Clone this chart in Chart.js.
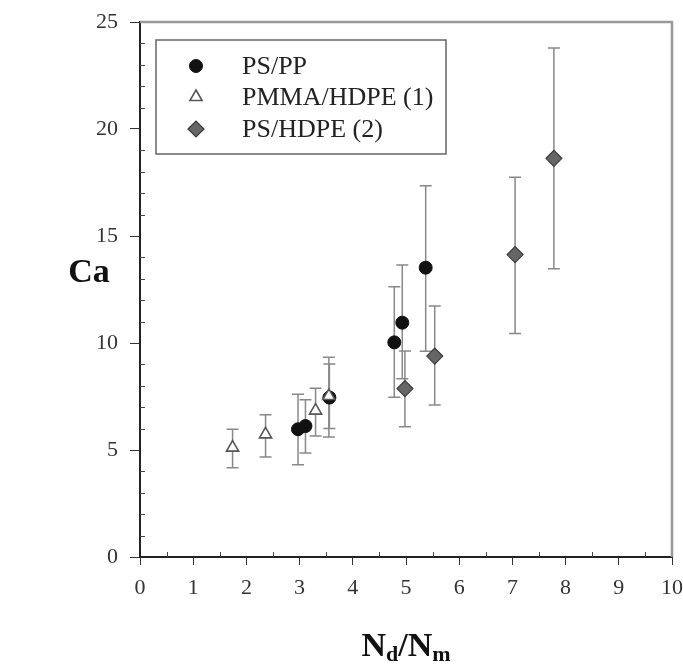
<!DOCTYPE html>
<html>
<head>
<meta charset="utf-8">
<script src="https://cdn.jsdelivr.net/npm/chart.js@4/dist/chart.umd.min.js"></script>
<style>
  html, body { margin: 0; padding: 0; background: #fff; }
  #wrap { width: 683px; height: 665px; }
</style>
</head>
<body>
<div id="wrap"><canvas id="chart" width="683" height="665"></canvas></div>
<script>
// PS/PP
const ppX  = [2.97, 3.11, 3.56, 4.78, 4.93, 5.37];
const ppY  = [5.97, 6.12, 7.45, 10.03, 10.95, 13.52];
const ppLo = [4.31, 4.86, 6.01, 7.46, 8.33, 9.61];
const ppHi = [7.60, 7.35, 9.02, 12.63, 13.64, 17.35];

// PMMA/HDPE (1)
const pmX  = [1.74, 2.36, 3.30, 3.55];
const pmY  = [5.11, 5.73, 6.84, 7.52];
const pmLo = [4.17, 4.67, 5.65, 5.61];
const pmHi = [5.97, 6.65, 7.88, 9.33];

// PS/HDPE (2)
const heX  = [4.98, 5.54, 7.05, 7.78];
const heY  = [7.87, 9.39, 14.13, 18.63];
const heLo = [6.09, 7.10, 10.44, 13.47];
const heHi = [9.63, 11.73, 17.74, 23.79];

const seriesNames = ['PS/PP', 'PMMA/HDPE (1)', 'PS/HDPE (2)'];
const xTickValues = [0, 1, 2, 3, 4, 5, 6, 7, 8, 9, 10];
const yTickValues = [0, 5, 10, 15, 20, 25];

const serif = "'Liberation Serif', 'DejaVu Serif', serif";

function toPoints(xs, ys, lo, hi) {
    return xs.map((x, i) => ({ x: x, y: ys[i], lo: lo[i], hi: hi[i] }));
}

const markerStyles = [
    { pointStyle: 'circle', radius: 6.5, backgroundColor: '#111', borderColor: '#111', borderWidth: 1 },
    { pointStyle: 'triangle', radius: 7, backgroundColor: '#fff', borderColor: '#555', borderWidth: 1.6 },
    { pointStyle: 'rectRot', radius: 8, backgroundColor: '#666', borderColor: '#3a3a3a', borderWidth: 1.2 }
];

// error bars under the markers
const errorBars = {
    id: 'errorBars',
    beforeDatasetsDraw(chart) {
        const ctx = chart.ctx;
        const xs = chart.scales.x, ys = chart.scales.y;
        ctx.save();
        ctx.strokeStyle = '#888';
        ctx.lineWidth = 1.5;
        chart.data.datasets.forEach(ds => {
            ds.data.forEach(p => {
                const px = xs.getPixelForValue(p.x);
                const top = ys.getPixelForValue(p.hi);
                const bot = ys.getPixelForValue(p.lo);
                ctx.beginPath();
                ctx.moveTo(px, top); ctx.lineTo(px, bot);
                ctx.moveTo(px - 6, top); ctx.lineTo(px + 6, top);
                ctx.moveTo(px - 6, bot); ctx.lineTo(px + 6, bot);
                ctx.stroke();
            });
        });
        ctx.restore();
    }
};

function drawMarker(ctx, st, x, y) {
    ctx.save();
    ctx.fillStyle = st.backgroundColor;
    ctx.strokeStyle = st.borderColor;
    ctx.lineWidth = st.borderWidth;
    Chart.helpers.drawPoint(ctx, { pointStyle: st.pointStyle, radius: st.radius, rotation: 0, borderWidth: st.borderWidth }, x, y);
    ctx.restore();
}

// frame, inward minor ticks, legend box and axis titles
const decorations = {
    id: 'decorations',
    afterDraw(chart) {
        const ctx = chart.ctx;
        const a = chart.chartArea;
        const xs = chart.scales.x, ys = chart.scales.y;
        ctx.save();

        ctx.strokeStyle = '#999';
        ctx.lineWidth = 2.5;
        ctx.beginPath();
        ctx.moveTo(a.left, a.top); ctx.lineTo(a.right, a.top); ctx.lineTo(a.right, a.bottom);
        ctx.stroke();

        ctx.strokeStyle = '#444';
        ctx.lineWidth = 1;
        ctx.beginPath();
        for (let v = 1; v < 25; v++) {
            if (v % 5 === 0) continue;
            const py = Math.round(ys.getPixelForValue(v)) + 0.5;
            ctx.moveTo(a.left, py); ctx.lineTo(a.left + 5, py);
        }
        for (let v = 0.5; v < 10; v += 1) {
            const px = Math.round(xs.getPixelForValue(v)) + 0.5;
            ctx.moveTo(px, a.bottom); ctx.lineTo(px, a.bottom - 5);
        }
        ctx.stroke();

        // legend
        ctx.strokeStyle = '#666';
        ctx.lineWidth = 1.5;
        ctx.strokeRect(156, 40, 290, 114);
        ctx.font = '26px ' + serif;
        ctx.fillStyle = '#222';
        ctx.textBaseline = 'middle';
        ctx.textAlign = 'left';
        const rows = [66, 97, 129];
        seriesNames.forEach((name, i) => {
            drawMarker(ctx, markerStyles[i], 196, rows[i]);
            ctx.fillStyle = '#222';
            ctx.fillText(name, 242, rows[i] + 1);
        });

        // axis titles
        ctx.fillStyle = '#111';
        ctx.textBaseline = 'alphabetic';
        ctx.font = 'bold 34px ' + serif;
        ctx.textAlign = 'center';
        ctx.fillText('Ca', 89, 282);

        const big = 'bold 34px ' + serif, small = 'bold 22px ' + serif;
        const parts = [['N', big, 0], ['d', small, 5], ['/', big, 0], ['N', big, 0], ['m', small, 5]];
        let total = 0;
        parts.forEach(p => { ctx.font = p[1]; total += ctx.measureText(p[0]).width; });
        let cx = (a.left + a.right) / 2 - total / 2;
        ctx.textAlign = 'left';
        parts.forEach(p => {
            ctx.font = p[1];
            ctx.fillText(p[0], cx, 656 + p[2]);
            cx += ctx.measureText(p[0]).width;
        });
        ctx.restore();
    }
};

const ctx = document.getElementById('chart').getContext('2d');
new Chart(ctx, {
    type: 'scatter',
    data: {
        datasets: [
            Object.assign({ label: seriesNames[0], data: toPoints(ppX, ppY, ppLo, ppHi), order: 2 }, markerStyles[0]),
            Object.assign({ label: seriesNames[1], data: toPoints(pmX, pmY, pmLo, pmHi), order: 0 }, markerStyles[1]),
            Object.assign({ label: seriesNames[2], data: toPoints(heX, heY, heLo, heHi), order: 1 }, markerStyles[2])
        ]
    },
    options: {
        responsive: false,
        animation: false,
        layout: { padding: { top: 22, right: 11, left: 0, bottom: 0 } },
        plugins: {
            legend: { display: false },
            tooltip: { enabled: false }
        },
        scales: {
            x: {
                type: 'linear',
                min: 0, max: 10,
                afterFit: s => { s.height = 108; s.paddingLeft = 0; s.paddingRight = 0; },
                afterBuildTicks: s => { s.ticks = xTickValues.map(v => ({ value: v })); },
                ticks: { color: '#333', font: { family: serif, size: 22 }, padding: 10, maxRotation: 0 },
                grid: { drawOnChartArea: false, drawTicks: true, tickLength: 8, color: '#333', lineWidth: 1 },
                border: { display: true, color: '#222', width: 2 }
            },
            y: {
                type: 'linear',
                min: 0, max: 25,
                afterFit: s => { s.width = 140; s.paddingTop = 0; s.paddingBottom = 0; },
                afterBuildTicks: s => { s.ticks = yTickValues.map(v => ({ value: v })); },
                ticks: { color: '#333', font: { family: serif, size: 22 }, padding: 12 },
                grid: { drawOnChartArea: false, drawTicks: true, tickLength: 10, color: '#333', lineWidth: 1 },
                border: { display: true, color: '#222', width: 2 }
            }
        }
    },
    plugins: [errorBars, decorations]
});
</script>
</body>
</html>
